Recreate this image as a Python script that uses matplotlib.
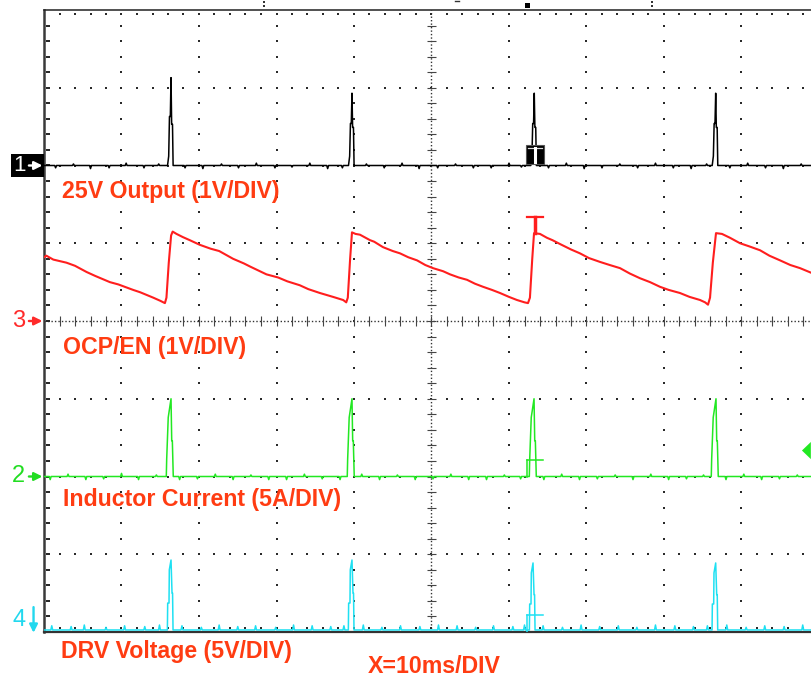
import matplotlib.pyplot as plt
import numpy as np
from matplotlib.patches import Rectangle, Polygon

plt.rcParams['font.family'] = ['Liberation Sans', 'DejaVu Sans']

# time axis: 10 ms/div, 10 divisions; vertical: 8 divisions
# channel scales (units per div) and ground level (div from bottom)
ch1_scale, ch1_gnd = 1.0, 6.0   # 25V output (V)
ch3_scale, ch3_gnd = 1.0, 4.0   # OCP/EN (V)
ch2_scale, ch2_gnd = 5.0, 2.0   # inductor current (A)
ch4_scale, ch4_gnd = 5.0, 0.0   # DRV voltage (V)

labels = ['25V Output (1V/DIV)', 'OCP/EN (1V/DIV)',
          'Inductor Current (5A/DIV)', 'DRV Voltage (5V/DIV)']
xlabel = 'X=10ms/DIV'

# --- CH1: output ripple (V) ---
ch1_noise_t = [1.5, 3.8, 6.0, 8.4, 10.6, 12.9, 14.8, 18.2, 20.5, 22.9, 25.1, 27.4, 29.8, 32.0,
               34.3, 36.6, 38.5, 41.6, 43.9, 46.2, 48.4, 50.8, 53.1, 55.4, 57.7, 60.0, 61.6,
               65.1, 67.4, 69.7, 72.0, 74.3, 76.6, 78.9, 81.2, 83.5, 85.5, 88.5, 90.8, 93.1,
               95.4, 97.7]
ch1_noise_v = [-0.03, 0.02, -0.04, -0.03, 0.03, -0.03, 0.02, -0.03, -0.04, 0.02, -0.03, 0.03,
               -0.03, -0.02, 0.03, -0.04, -0.03, 0.02, -0.03, 0.03, -0.04, -0.03, 0.02, -0.03,
               -0.03, 0.03, -0.02, -0.03, 0.03, -0.04, -0.03, 0.02, -0.03, 0.03, -0.03, -0.04,
               0.02, -0.03, 0.03, -0.03, -0.04, 0.02]
ch1_spike_t = [[15.94, 16.09, 16.19, 16.30, 16.39, 16.47, 16.58, 16.66],
               [39.29, 39.44, 39.54, 39.65, 39.74, 39.82, 39.93, 40.01],
               [62.81, 62.96, 63.06, 63.17, 63.26, 63.34, 63.45, 63.53],
               [86.22, 86.37, 86.47, 86.58, 86.67, 86.75, 86.86, 86.94]]
ch1_spike_v = [[0, 0.12, 0.63, 0.63, 1.13, 0.53, 0.53, 0],
               [0, 0.12, 0.54, 0.54, 0.93, 0.49, 0.49, 0],
               [0, 0.12, 0.54, 0.54, 0.93, 0.49, 0.49, 0],
               [0, 0.12, 0.54, 0.54, 0.93, 0.49, 0.49, 0]]

# --- CH3: OCP/EN sawtooth (V) ---
ch3_t = [0, 0.3, 1.2, 2.9, 4.0, 5.5, 6.6, 8.5, 9.6, 11.5, 12.4, 14.1, 15.0, 15.6, 15.8, 16.1,
         16.4, 16.6, 17.1, 17.9, 18.8, 20.1, 21.5, 22.6, 24.4, 25.8, 26.6, 28.7, 30.2, 31.4,
         33.0, 34.1, 35.6, 37.3, 38.6, 39.0, 39.2, 39.5, 39.74, 40.2, 40.77, 42.06, 42.6,
         43.74, 45.0, 45.94, 47.0, 48.13, 49.2, 50.19, 51.5, 52.39, 53.5, 54.58, 55.6, 56.65,
         57.8, 58.84, 60.0, 61.03, 62.0, 62.45, 62.7, 63.0, 63.23, 64.0, 64.9, 65.6, 66.58,
         68.0, 69.16, 70.3, 71.74, 73.0, 74.32, 75.6, 76.9, 78.2, 79.48, 80.6, 82.06, 83.3,
         84.65, 85.3, 85.68, 85.94, 86.3, 86.71, 87.48, 88.52, 89.81, 91.0, 92.39, 93.6,
         94.97, 96.3, 97.55, 99.0, 100]
ch3_v = [0.82, 0.84, 0.79, 0.75, 0.71, 0.63, 0.58, 0.50, 0.47, 0.40, 0.37, 0.30, 0.26, 0.23,
         0.30, 0.75, 1.10, 1.15, 1.12, 1.08, 1.04, 0.98, 0.93, 0.90, 0.80, 0.74, 0.70, 0.60,
         0.56, 0.51, 0.46, 0.41, 0.36, 0.31, 0.27, 0.24, 0.30, 0.80, 1.14, 1.12, 1.11, 1.04,
         1.02, 0.95, 0.90, 0.87, 0.82, 0.78, 0.72, 0.68, 0.64, 0.60, 0.56, 0.53, 0.48, 0.44,
         0.40, 0.36, 0.31, 0.27, 0.24, 0.23, 0.30, 0.80, 1.13, 1.12, 1.07, 1.04, 0.99, 0.92,
         0.87, 0.81, 0.76, 0.72, 0.68, 0.61, 0.55, 0.50, 0.44, 0.40, 0.36, 0.31, 0.27, 0.24,
         0.21, 0.30, 0.75, 1.13, 1.12, 1.07, 1.00, 0.96, 0.91, 0.84, 0.78, 0.72, 0.68, 0.62,
         0.59]

# --- CH2: inductor current (A) ---
ch2_noise_t = [0.8, 3.1, 5.4, 7.7, 10.0, 12.2, 14.5, 17.5, 19.8, 22.1, 24.4, 26.7, 29.0, 31.3,
               33.6, 35.9, 38.2, 41.0, 43.3, 45.6, 47.9, 50.2, 52.5, 54.8, 57.1, 59.4, 61.5,
               64.5, 66.8, 69.1, 71.4, 73.7, 76.0, 78.3, 80.6, 82.9, 85.1, 88.0, 90.3, 92.6,
               94.9, 97.2, 99.4]
ch2_noise_v = [-0.2, 0.15, -0.2, -0.15, 0.2, -0.2, 0.1, -0.2, -0.15, 0.15, -0.2, 0.1, -0.2,
               -0.2, 0.15, -0.15, -0.2, 0.15, -0.2, 0.1, -0.2, -0.15, 0.15, -0.2, -0.2, 0.1,
               -0.15, -0.2, 0.15, -0.2, -0.15, 0.1, -0.2, 0.15, -0.2, -0.15, 0.1, -0.2, 0.15,
               -0.2, -0.15, 0.1, -0.2]
ch2_spike_t = [[15.78, 15.83, 16.03, 16.39, 16.48, 16.56, 16.68],
               [39.13, 39.18, 39.38, 39.74, 39.83, 39.91, 40.03],
               [62.62, 62.67, 62.87, 63.23, 63.32, 63.40, 63.52],
               [86.10, 86.15, 86.35, 86.71, 86.80, 86.88, 87.00]]
ch2_spike_v = [[0, 1.1, 3.8, 5.0, 2.3, 2.3, 0]] * 4

# --- CH4: DRV voltage (V) ---
ch4_base = 0.13
ch4_noise_t = [1.0, 3.5, 5.2, 8.0, 10.4, 13.0, 14.9, 17.8, 20.3, 22.6, 25.0, 27.3, 29.9, 32.2,
               34.6, 37.0, 38.7, 41.2, 43.6, 46.0, 48.5, 50.9, 53.3, 55.7, 58.0, 60.5, 62.0,
               64.4, 66.9, 69.3, 71.7, 74.1, 76.5, 78.9, 81.4, 83.8, 85.6, 88.1, 90.6, 93.0,
               95.5, 97.9]
ch4_noise_v = [0.4, 0.35, 0.45, 0.3, 0.4, 0.35, 0.45, 0.4, 0.3, 0.45, 0.35, 0.4, 0.3, 0.45,
               0.4, 0.35, 0.4, 0.45, 0.3, 0.4, 0.35, 0.45, 0.4, 0.3, 0.4, 0.35, 0.45, 0.4, 0.3,
               0.45, 0.35, 0.4, 0.3, 0.45, 0.4, 0.35, 0.4, 0.45, 0.3, 0.4, 0.35, 0.45]
ch4_spike_t = [[15.92, 15.96, 16.13, 16.17, 16.39, 16.52, 16.59, 16.65],
               [39.27, 39.31, 39.48, 39.52, 39.74, 39.87, 39.94, 40.00],
               [62.63, 62.67, 62.84, 62.88, 63.10, 63.23, 63.30, 63.36],
               [86.20, 86.24, 86.41, 86.45, 86.67, 86.80, 86.87, 86.93]]
ch4_spike_v = [[0.13, 1.86, 1.86, 4.0, 4.63, 2.5, 2.5, 0.13],
               [0.13, 1.86, 1.86, 4.0, 4.63, 2.5, 2.5, 0.13],
               [0.13, 1.80, 1.80, 3.8, 4.44, 2.4, 2.4, 0.13],
               [0.13, 1.80, 1.80, 3.8, 4.44, 2.4, 2.4, 0.13]]

# cursor markers near the third pulse
cur_t0, cur_t1, cur_t = 62.2, 64.5, 63.35
ch3_cursor_v = 1.34
ch2_cursor_i = 1.09
ch4_cursor_v = 1.09
ch2_trig_i = 1.67


def build_trace(base, noise_t, noise_v, spikes_t, spikes_v, w=0.12):
    pts = [(0.0, base), (100.0, base)]
    for t, v in zip(noise_t, noise_v):
        pts += [(t - w, base), (t, v), (t + w, base)]
    for st, sv in zip(spikes_t, spikes_v):
        pts += list(zip(st, sv))
    pts.sort(key=lambda p: p[0])
    t, v = zip(*pts)
    return np.array(t), np.array(v)


fig = plt.figure(figsize=(8.11, 6.77), dpi=100)
ax = fig.add_axes([44 / 811, 45 / 677, 775 / 811, 622 / 677])
ax.set_xlim(0, 100)
ax.set_ylim(0, 8)
ax.set_xticks([])
ax.set_yticks([])
ax.spines['left'].set_linewidth(1.8)
ax.spines['left'].set_color('#3a3a3a')
ax.spines['top'].set_linewidth(1.1)
ax.spines['top'].set_color('#222222')
ax.spines['bottom'].set_linewidth(1.6)
ax.spines['bottom'].set_color('#333333')
ax.spines['right'].set_visible(False)

# graticule
dot = dict(marker='s', ms=1.6, mew=0, color='#2a2a2a', ls='none', zorder=1)
minor_y = np.arange(0.2, 8.0, 0.2)
minor_x = np.arange(2, 100, 2)
for gx in range(10, 100, 10):
    if gx != 50:
        ax.plot(np.full_like(minor_y, gx), minor_y, **dot)
for gy in range(1, 8):
    if gy != 4:
        ax.plot(minor_x, np.full_like(minor_x, gy, dtype=float), **dot)
ax.plot([50, 50], [0, 8], ls=(0, (1, 1.5)), lw=1.0, color='#333333', zorder=1)
ax.plot([0, 100], [4, 4], ls=(0, (1, 1.5)), lw=1.0, color='#333333', zorder=1)
ax.hlines(minor_y, 49.4, 50.6, lw=0.8, color='#444444', zorder=1)
ax.vlines(minor_x, 3.94, 4.06, lw=0.8, color='#444444', zorder=1)
ax.plot(np.full_like(minor_y, 0.35), minor_y, **dot)
ax.plot(np.full_like(minor_y, 0.7), minor_y, **dot)
ax.plot(minor_x, np.full_like(minor_x, 7.95, dtype=float), **dot)
ax.plot(minor_x, np.full_like(minor_x, 0.05, dtype=float), **dot)

# marks above the screen
for mt in [28.4, 78.5]:
    ax.plot([mt, mt], [8.05, 8.1], marker='s', ms=1.5, mew=0, color='#333333',
            ls='none', clip_on=False)
ax.plot([53.0, 53.6], [8.12, 8.12], lw=1, color='#333333', clip_on=False)
ax.add_patch(Rectangle((62.1, 8.03), 0.6, 0.06, fc='black', ec='none', clip_on=False))

# traces
t1, v1 = build_trace(0.0, ch1_noise_t, ch1_noise_v, ch1_spike_t, ch1_spike_v)
ax.plot(t1, ch1_gnd + v1 / ch1_scale, color='black', lw=1.1, zorder=3)

ax.plot(ch3_t, ch3_gnd + np.array(ch3_v) / ch3_scale, color='#ff1e1e', lw=1.5, zorder=3)

t2, v2 = build_trace(0.0, ch2_noise_t, ch2_noise_v, ch2_spike_t, ch2_spike_v)
ax.plot(t2, ch2_gnd + v2 / ch2_scale, color='#22e822', lw=1.1, zorder=3)

t4, v4 = build_trace(ch4_base, ch4_noise_t, ch4_noise_v, ch4_spike_t, ch4_spike_v)
ax.plot(t4, ch4_gnd + v4 / ch4_scale, color='#1ee0f2', lw=1.1, zorder=3)

# cursor markers
ax.add_patch(Rectangle((cur_t0, ch1_gnd + 0.02), cur_t1 - cur_t0, 0.25,
                       fc='black', ec='#555555', lw=0.8, zorder=4))
ax.plot([cur_t0 + 0.2, cur_t1 - 0.2], [ch1_gnd + 0.23] * 2, color='#dddddd', lw=0.9, zorder=5)
ax.plot([cur_t, cur_t], [ch1_gnd + 0.04, ch1_gnd + 0.23], color='white', lw=2.2, zorder=5)

ax.plot([cur_t0 + 0.15, cur_t1 - 0.15], [ch3_gnd + ch3_cursor_v] * 2, color='#ff1e1e', lw=1.6, zorder=4)
ax.plot([cur_t, cur_t], [ch3_gnd + ch3_cursor_v, ch3_gnd + 1.13], color='#ff1e1e', lw=2.5, zorder=4)

for gnd, scale, lvl, col in [(ch2_gnd, ch2_scale, ch2_cursor_i, '#22e822'),
                             (ch4_gnd, ch4_scale, ch4_cursor_v, '#1ee0f2')]:
    ax.plot([cur_t0 + 0.1, cur_t1 - 0.1], [gnd + lvl / scale] * 2, color=col, lw=1.1, zorder=4)
    ax.plot([cur_t0 + 0.1] * 2, [gnd, gnd + lvl / scale], color=col, lw=1.1, zorder=4)

ax.add_patch(Polygon([[97.8, ch2_gnd + ch2_trig_i / ch2_scale],
                      [98.95, ch2_gnd + (ch2_trig_i + 0.55) / ch2_scale],
                      [98.95, ch2_gnd + (ch2_trig_i - 0.55) / ch2_scale]],
                     closed=True, fc='#22e822', ec='none', clip_on=False, zorder=4))

# channel indicators on the left
ax.add_patch(Rectangle((-4.3, ch1_gnd - 0.15), 4.3, 0.295, fc='black', ec='none',
                       clip_on=False, zorder=4))
ind = [(ch1_gnd, 'white', '1'), (ch3_gnd, '#ff2a2a', '3'), (ch2_gnd, '#22dd22', '2')]
for gnd, col, num in ind:
    ax.text(-2.45 if num != '1' else -2.3, gnd, num, ha='right', va='center', color=col,
            fontsize=17 if num != '1' else 16, clip_on=False, zorder=5)
    ax.annotate('', xy=(-0.2, gnd), xytext=(-1.95, gnd), annotation_clip=False,
                arrowprops=dict(arrowstyle='-|>', color=col, lw=1.7, mutation_scale=12,
                                shrinkA=0, shrinkB=0), zorder=5)
ax.text(-2.4, ch4_gnd + 0.16, '4', ha='right', va='center', color='#22d8ee', fontsize=17,
        clip_on=False)
ax.annotate('', xy=(-1.35, ch4_gnd - 0.01), xytext=(-1.35, ch4_gnd + 0.32),
            annotation_clip=False,
            arrowprops=dict(arrowstyle='-|>', color='#22d8ee', lw=1.7, mutation_scale=12,
                            shrinkA=0, shrinkB=0))

# channel captions
txt = dict(color='#ff3c12', fontsize=16.7, fontweight='bold', ha='left', va='baseline',
           clip_on=False)
ax.text(2.3, ch1_gnd - 0.42, labels[0], **txt)
ax.text(2.5, ch3_gnd - 0.425, labels[1], **txt)
ax.text(2.5, ch2_gnd - 0.375, labels[2], **txt)
ax.text(2.2, ch4_gnd - 0.334, labels[3], **txt)
ax.text(41.8, -0.527, xlabel, **txt)

fig.savefig('out.png', dpi=100)
